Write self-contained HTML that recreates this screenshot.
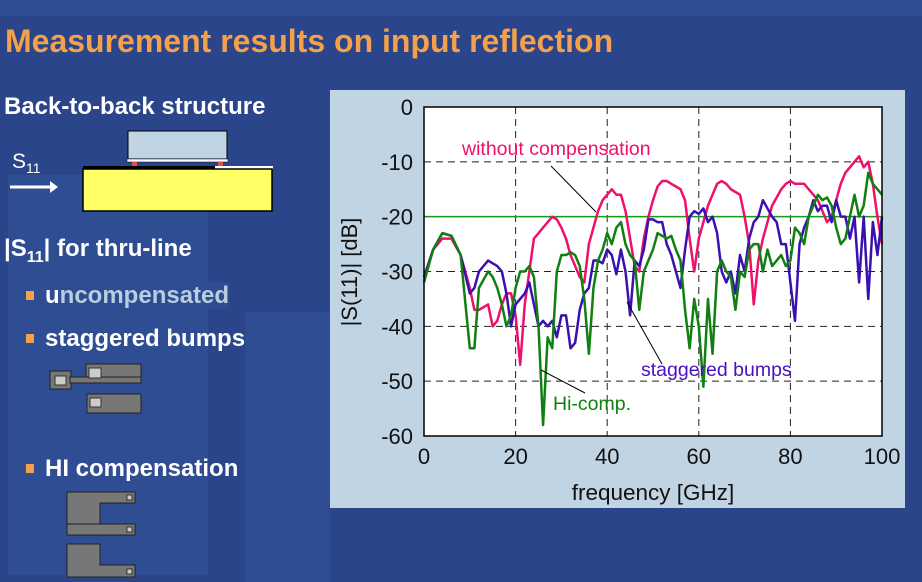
<!DOCTYPE html>
<html><head><meta charset="utf-8"><style>
body{margin:0;width:922px;height:582px;overflow:hidden;background:#2a4589;font-family:"Liberation Sans",sans-serif;position:relative}
.abs{position:absolute}
.t{color:#fff;font-weight:bold;font-size:24px}
.bul{width:8px;height:9px;background:#f5a04a;position:absolute}
</style></head><body>
<div class="abs" style="left:0;top:0;width:922px;height:16px;background:#2f4f95"></div>
<div class="abs" style="left:8px;top:175px;width:200px;height:400px;background:#2e4d93"></div>
<div class="abs" style="left:245px;top:312px;width:85px;height:270px;background:#2e4d93"></div>
<div class="abs" style="left:5px;top:23px;color:#f5a04a;font-weight:bold;font-size:32px">Measurement results on input reflection</div>
<div class="abs t" style="left:4px;top:93px">Back-to-back structure</div>
<div class="abs" style="left:12px;top:150px;color:#fff;font-size:21px">S<sub style="font-size:14px">11</sub></div>
<svg class="abs" style="left:0;top:120px" width="330" height="100">
<line x1="10" y1="67" x2="52" y2="67" stroke="#fff" stroke-width="3"/><polygon points="50,61 58,67 50,73" fill="#fff"/>
<rect x="128" y="11" width="99" height="28" fill="#c0d4e6" stroke="#000"/>
<rect x="127" y="39" width="101" height="3" fill="#fff" stroke="#000" stroke-width=".5"/>
<rect x="132" y="42" width="5" height="4" fill="#e05050"/><rect x="218" y="42" width="5" height="4" fill="#e05050"/>
<rect x="83" y="46" width="190" height="3" fill="#000"/><rect x="215" y="46" width="58" height="3" fill="#fff"/>
<rect x="83" y="49" width="189" height="42" fill="#ffff66" stroke="#000" stroke-width="1.5"/>
</svg>
<div class="abs t" style="left:4px;top:235px">|S<sub style="font-size:16px">11</sub>| for thru-line</div>
<div class="bul" style="left:26px;top:291px"></div>
<div class="abs t" style="left:45px;top:282px">u<span style="color:#b8cde0;background:#2d4c92">ncompensated</span></div>
<div class="bul" style="left:26px;top:334px"></div>
<div class="abs t" style="left:45px;top:325px">staggered bumps</div>
<svg class="abs" style="left:0;top:360px" width="160" height="65">
<g fill="#777" stroke="#222"><rect x="86" y="4" width="55" height="19"/><rect x="50" y="11" width="21" height="18"/><rect x="70" y="17" width="71" height="6"/><rect x="87" y="34" width="54" height="19"/></g>
<g fill="#ccc" stroke="#333"><rect x="89" y="8" width="12" height="10"/><rect x="55" y="16" width="11" height="9"/><rect x="90" y="38" width="11" height="9"/></g></svg>
<div class="bul" style="left:26px;top:464px"></div>
<div class="abs t" style="left:45px;top:455px">HI compensation</div>
<svg class="abs" style="left:0;top:490px" width="160" height="92">
<g fill="#777" stroke="#222"><path d="M67 2H135V13H100V37H67Z"/><rect x="67" y="34" width="68" height="11"/><path d="M67 54H100V75H135V87H67Z"/></g>
<g fill="#ccc" stroke="#333"><rect x="127" y="5" width="5" height="5"/><rect x="127" y="37" width="5" height="5"/><rect x="127" y="79" width="5" height="5"/></g></svg>
<div class="abs" style="left:330px;top:90px;width:575px;height:418px;background:#c0d4e4"></div>
<svg id="chart" class="abs" style="left:0;top:0" width="922" height="582"></svg>
<script>
const xs=[0,2,4,6,8,10,11,12,14,15,16,17,18,19,20,21,22,23,24,25,26,27,28,29,30,31,32,33,34,35,36,37,38,39,40,41,42,43,44,45,46,47,48,49,50,51,52,53,54,55,56,57,58,59,60,61,62,63,64,65,66,67,68,69,70,71,72,73,74,75,76,77,78,79,80,81,82,83,84,85,86,87,88,89,90,91,92,93,94,95,96,97,98,99,100];
const red=[-31,-26,-24,-24,-27,-33,-37,-37,-36,-40,-39,-36,-34,-34,-38,-47,-36,-30,-24,-23,-22,-21,-20,-20.5,-22,-24,-27,-29,-31,-32,-25,-22,-19,-17,-16,-15,-16,-16,-19,-24,-29,-30,-24,-20,-17,-14.5,-13.5,-13.5,-14,-14.5,-15,-17,-24,-30,-24,-21,-18,-16,-14,-13.5,-14,-15,-15.5,-16,-20,-25,-36,-28,-24,-21,-18,-16.5,-15,-14,-13.5,-14,-14,-14,-15,-16,-17,-19,-21,-20,-17,-14,-12,-11,-10,-9,-11,-10,-14,-20,-25];
const blue=[-31,-26,-23,-23.5,-27,-34,-33,-30,-28,-28.5,-29,-30,-34,-40,-36,-35,-34,-32,-36,-40,-39,-40,-39,-42,-38,-38,-44,-43,-37,-34,-33,-28,-28,-28.5,-26,-27,-30.5,-26,-30,-38,-28,-29,-26,-20.5,-20.5,-21,-21,-25,-27,-30,-33,-26,-20,-19,-19.5,-18.5,-21,-20,-23,-30,-32,-30,-34,-27,-30,-24,-21,-20,-17,-18.5,-20,-21,-25,-25,-32,-39,-25,-22,-20,-17,-19,-18,-18,-21,-17,-20,-20,-24,-20,-32,-20,-35,-21,-27,-20];
const green=[-32,-26,-23,-23.5,-27,-44,-44,-33,-30,-31,-33,-36,-40,-38,-33,-30,-30,-29,-31,-40,-58,-42,-44,-30,-27,-27,-26.5,-27,-29,-35,-45,-33,-28,-26,-23,-25,-22,-21,-25,-27,-28,-37,-30,-28,-26,-23,-23.5,-24,-23.5,-26,-28,-37,-44,-35,-40,-51,-35,-45,-30,-28,-30,-31,-37,-30,-31,-26,-25,-25,-30,-26,-29,-28,-27,-29,-28,-22,-23,-25,-20,-18,-16,-17,-16.5,-18,-22,-25,-24,-20,-16,-20,-18,-12,-14,-15,-16];
const xticks=[0,20,40,60,80,100];
const yticks=[0,-10,-20,-30,-40,-50,-60];
const refLevel=-20;
const X0=424,X1=882,Y0=107,Y1=436;
const sx=v=>X0+(v/100)*(X1-X0), sy=v=>Y0+(-v/60)*(Y1-Y0);
const svg=document.getElementById('chart');const NS='http://www.w3.org/2000/svg';
function mk(t,a,p){const e=document.createElementNS(NS,t);for(const k in a)e.setAttribute(k,a[k]);(p||svg).appendChild(e);return e;}
const plot=mk('rect',{x:X0,y:Y0,width:X1-X0,height:Y1-Y0,fill:'#fff'});


xticks.forEach(v=>{
 if(v>0&&v<100){const g=mk('line',{x1:sx(v),x2:sx(v),y1:Y0,y2:Y1,stroke:'#222','stroke-dasharray':'7,5'});
 
 }
 const t=mk('text',{x:sx(v),y:Y1+28,'text-anchor':'middle','font-size':22,fill:'#111','font-family':'Liberation Sans'});
 t.textContent=v;
 
 
});
yticks.forEach(v=>{
 if(v<0&&v>-60){const g=mk('line',{x1:X0,x2:X1,y1:sy(v),y2:sy(v),stroke:'#222','stroke-dasharray':'7,5'});
 
 }
 const t=mk('text',{x:X0-11,y:sy(v)+8,'text-anchor':'end','font-size':22,fill:'#111','font-family':'Liberation Sans'});
 t.textContent=v;
 
 
});
const ref=mk('line',{x1:X0,x2:X1,y1:sy(refLevel),y2:sy(refLevel),stroke:'#1a9a1a','stroke-width':1.5});


function series(d,c,n){const p=mk('polyline',{points:xs.map((x,i)=>sx(x)+','+sy(d[i])).join(' '),fill:'none',stroke:c,'stroke-width':2.5,'stroke-linejoin':'round'});
 
 }
series(red,'#f0106a','series-without-compensation');
series(blue,'#3a10b0','series-staggered-bumps');
series(green,'#108010','series-hi-comp');
const fr=mk('rect',{x:X0,y:Y0,width:X1-X0,height:Y1-Y0,fill:'none',stroke:'#000','stroke-width':1.5});


[[551,166,596,212],[627,302,662,364],[541,370,585,393]].forEach(l=>{const e=mk('line',{x1:l[0],y1:l[1],x2:l[2],y2:l[3],stroke:'#000','stroke-width':1});
 
 });
[['without compensation',462,155,'#f0106a','label-without-compensation'],['staggered bumps',641,376,'#4a10c0','label-staggered-bumps'],['Hi-comp.',553,410,'#108010','label-hi-comp']].forEach(a=>{
 const t=mk('text',{x:a[1],y:a[2],'font-size':19.5,fill:a[3],'font-family':'Liberation Sans'});t.textContent=a[0];
 
 });
const xt=mk('text',{x:653,y:500,'text-anchor':'middle','font-size':22.5,fill:'#111','font-family':'Liberation Sans'});xt.textContent='frequency [GHz]';


const yt=mk('text',{x:0,y:0,'text-anchor':'middle','font-size':22,fill:'#111','font-family':'Liberation Sans',transform:'translate(357,272) rotate(-90)'});yt.textContent='|S(11)| [dB]';


</script>
</body></html>
